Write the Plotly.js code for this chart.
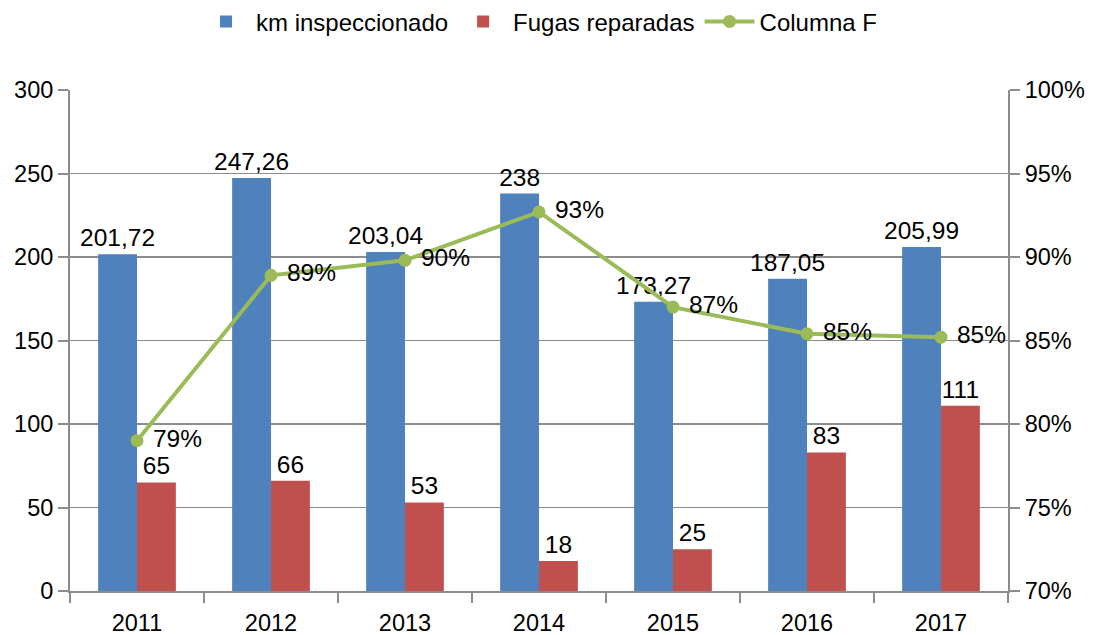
<!DOCTYPE html>
<html>
<head>
<meta charset="utf-8">
<script src="https://cdn.plot.ly/plotly-3.0.1.min.js"></script>
<style>
html,body{margin:0;padding:0;background:#fff;}
#chart{width:1095px;height:635px;}
</style>
</head>
<body>
<div id="chart"></div>
<script>
var years = ['2011','2012','2013','2014','2015','2016','2017'];
var kmInspeccionado = [201.72, 247.26, 203.04, 238, 173.27, 187.05, 205.99];
var fugasReparadas = [65, 66, 53, 18, 25, 83, 111];
var columnaF = [0.790, 0.889, 0.898, 0.927, 0.870, 0.854, 0.852];

function fmt(v){ return String(v).replace('.', ','); }

var FONT = 'Liberation Sans, Arial, sans-serif';

var traces = [
  {
    type: 'bar', name: 'km inspeccionado', x: years, y: kmInspeccionado,
    marker: {color: '#4F81BD'},
    text: kmInspeccionado.map(fmt), textposition: 'outside',
    textfont: {family: FONT, size: 24.5, color: '#000'},
    constraintext: 'none', cliponaxis: false
  },
  {
    type: 'bar', name: 'Fugas reparadas', x: years, y: fugasReparadas,
    marker: {color: '#C0504D'},
    text: fugasReparadas.map(fmt), textposition: 'outside',
    textfont: {family: FONT, size: 24.5, color: '#000'},
    constraintext: 'none', cliponaxis: false
  },
  {
    type: 'scatter', mode: 'lines+markers+text', name: 'Columna F',
    x: years, y: columnaF, yaxis: 'y2',
    line: {color: '#9BBB59', width: 4},
    marker: {color: '#9BBB59', size: 13},
    texttemplate: ' %{y:.0%}', textposition: 'middle right',
    textfont: {family: FONT, size: 24.5, color: '#000'},
    cliponaxis: false
  }
];

var layout = {
  width: 1095, height: 635,
  margin: {l: 70, r: 87, t: 90, b: 44, autoexpand: false},
  paper_bgcolor: '#fff', plot_bgcolor: '#fff',
  font: {family: FONT, size: 23, color: '#000'},
  separators: ', ',
  barmode: 'group', bargap: 0.42, bargroupgap: 0,
  showlegend: true,
  legend: {
    orientation: 'h', x: 0.5, xanchor: 'center', y: 1.136, yanchor: 'middle',
    font: {family: FONT, size: 24, color: '#000'},
    traceorder: 'normal', itemwidth: 50
  },
  xaxis: {
    type: 'category', tickson: 'boundaries', ticks: 'outside', ticklen: 10,
    tickcolor: '#8c8c8c', tickwidth: 2, ticklabelstandoff: 10,
    showline: true, linecolor: '#8c8c8c', linewidth: 2,
    showgrid: false, zeroline: false,
    tickfont: {family: FONT, size: 23.5, color: '#000'}
  },
  yaxis: {
    range: [0, 300], dtick: 50, tick0: 0,
    ticks: 'outside', ticklen: 10, tickcolor: '#8c8c8c', tickwidth: 2,
    showline: true, linecolor: '#8c8c8c', linewidth: 2,
    showgrid: true, gridcolor: '#8c8c8c', gridwidth: 1.5,
    zeroline: false,
    tickfont: {family: FONT, size: 23.5, color: '#000'}
  },
  yaxis2: {
    overlaying: 'y', side: 'right',
    range: [0.70, 1.00], dtick: 0.05, tick0: 0.70, tickformat: '.0%',
    ticks: 'outside', ticklen: 10, tickcolor: '#8c8c8c', tickwidth: 2,
    showline: true, linecolor: '#8c8c8c', linewidth: 2,
    showgrid: false, zeroline: false,
    tickfont: {family: FONT, size: 23.5, color: '#000'}
  }
};

Plotly.newPlot('chart', traces, layout, {displayModeBar: false, staticPlot: true});
</script>
</body>
</html>
